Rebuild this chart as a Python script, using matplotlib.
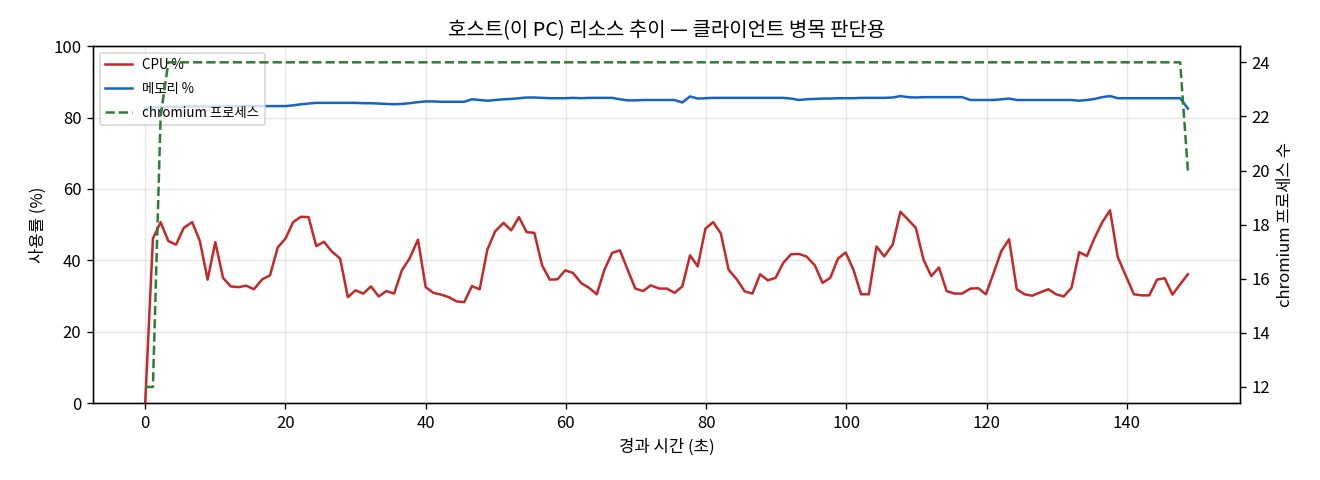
import matplotlib
matplotlib.use("Agg")
import matplotlib.pyplot as plt

plt.rcParams['font.family'] = ['Noto Sans CJK KR', 'DejaVu Sans']
plt.rcParams['axes.unicode_minus'] = False

# elapsed seconds for each sample (sampling was a bit slower than 1 s)
t_sec = [0.0, 1.1, 2.2, 3.3, 4.4, 5.5, 6.7, 7.8, 8.9, 10.0,
         11.1, 12.2, 13.3, 14.4, 15.5, 16.7, 17.8, 18.9, 20.0, 21.1,
         22.2, 23.3, 24.4, 25.5, 26.6, 27.8, 28.9, 30.0, 31.1, 32.2,
         33.3, 34.4, 35.5, 36.6, 37.7, 38.9, 40.0, 41.1, 42.2, 43.3,
         44.4, 45.5, 46.6, 47.7, 48.8, 49.9, 51.1, 52.2, 53.3, 54.4,
         55.5, 56.6, 57.7, 58.8, 59.9, 61.0, 62.2, 63.3, 64.4, 65.5,
         66.6, 67.7, 68.8, 69.9, 71.0, 72.1, 73.3, 74.4, 75.5, 76.6,
         77.7, 78.8, 79.9, 81.0, 82.1, 83.2, 84.4, 85.5, 86.6, 87.7,
         88.8, 89.9, 91.0, 92.1, 93.2, 94.3, 95.5, 96.6, 97.7, 98.8,
         99.9, 101.0, 102.1, 103.2, 104.3, 105.4, 106.6, 107.7, 108.8, 109.9,
         111.0, 112.1, 113.2, 114.3, 115.4, 116.5, 117.7, 118.8, 119.9, 121.0,
         122.1, 123.2, 124.3, 125.4, 126.5, 127.6, 128.8, 129.9, 131.0, 132.1,
         133.2, 134.3, 135.4, 136.5, 137.6, 138.7, 139.9, 141.0, 142.1, 143.2,
         144.3, 145.4, 146.5, 147.6, 148.7]

cpu_pct = [0.0, 46.1, 50.7, 45.4, 44.4, 49.1, 50.7, 45.4, 34.6, 45.1,
           35.1, 32.7, 32.5, 32.9, 31.9, 34.7, 35.8, 43.6, 46.1, 50.7,
           52.2, 52.1, 44.0, 45.2, 42.5, 40.5, 29.7, 31.6, 30.7, 32.7,
           29.9, 31.4, 30.7, 37.2, 40.5, 45.8, 32.5, 30.9, 30.4, 29.7,
           28.5, 28.3, 32.8, 31.9, 43.0, 48.1, 50.5, 48.4, 52.1, 47.9,
           47.7, 38.6, 34.6, 34.7, 37.2, 36.5, 33.6, 32.3, 30.5, 37.4,
           42.1, 42.8, 37.4, 32.1, 31.4, 33.0, 32.1, 32.1, 30.9, 32.7,
           41.4, 38.3, 48.9, 50.7, 47.5, 37.4, 34.6, 31.3, 30.7, 36.1,
           34.4, 35.1, 39.3, 41.7, 41.8, 41.1, 38.6, 33.7, 35.1, 40.5,
           42.2, 37.4, 30.5, 30.5, 43.9, 41.1, 44.4, 53.6, 51.4, 49.1,
           40.2, 35.6, 38.0, 31.4, 30.7, 30.7, 32.1, 32.2, 30.5, 36.5,
           42.6, 45.9, 31.9, 30.5, 30.1, 31.0, 31.9, 30.5, 29.9, 32.3,
           42.3, 41.2, 46.3, 50.7, 54.0, 40.9, 35.5, 30.5, 30.2, 30.2,
           34.6, 35.0, 30.4, 33.3, 36.1]

mem_pct = [82.6, 82.8, 82.9, 83.0, 83.0, 83.0, 83.1, 83.1, 83.1, 83.1,
           83.2, 83.2, 83.2, 83.2, 83.2, 83.2, 83.2, 83.2, 83.2, 83.4,
           83.7, 83.9, 84.1, 84.1, 84.1, 84.1, 84.1, 84.1, 84.0, 84.0,
           83.9, 83.8, 83.7, 83.8, 84.0, 84.3, 84.5, 84.5, 84.4, 84.4,
           84.4, 84.4, 85.1, 84.9, 84.7, 84.9, 85.1, 85.2, 85.4, 85.6,
           85.6, 85.5, 85.4, 85.4, 85.4, 85.5, 85.4, 85.5, 85.5, 85.5,
           85.5, 85.1, 84.8, 84.8, 84.9, 84.9, 84.9, 84.9, 84.9, 84.2,
           85.9, 85.3, 85.4, 85.5, 85.5, 85.5, 85.5, 85.5, 85.5, 85.5,
           85.5, 85.5, 85.5, 85.3, 84.9, 85.1, 85.2, 85.3, 85.3, 85.4,
           85.4, 85.4, 85.5, 85.5, 85.5, 85.5, 85.6, 86.0, 85.7, 85.6,
           85.7, 85.7, 85.7, 85.7, 85.7, 85.7, 84.9, 84.9, 84.9, 84.9,
           85.1, 85.3, 84.9, 84.9, 84.9, 84.9, 84.9, 84.9, 84.9, 84.9,
           84.7, 84.9, 85.2, 85.7, 86.0, 85.4, 85.4, 85.4, 85.4, 85.4,
           85.4, 85.4, 85.4, 85.4, 82.5]

chromium_procs = [12, 12, 22] + [24] * 131 + [20]

fig, ax1 = plt.subplots(figsize=(11, 4), dpi=120)
fig.subplots_adjust(left=0.0705, right=0.9394, top=0.904, bottom=0.160)

l1, = ax1.plot(t_sec, cpu_pct, color='#c62828', linewidth=1.5, label='CPU %')
l2, = ax1.plot(t_sec, mem_pct, color='#1565c0', linewidth=1.5, label='메모리 %')
ax1.set_ylim(0, 100)
ax1.set_xlabel('경과 시간 (초)')
ax1.set_ylabel('사용률 (%)')
ax1.grid(True, alpha=0.3)

ax2 = ax1.twinx()
l3, = ax2.plot(t_sec, chromium_procs, color='#2e7d32', linewidth=1.5,
               linestyle='--', label='chromium 프로세스')
ax2.set_ylabel('chromium 프로세스 수')

ax1.legend(handles=[l1, l2, l3], loc='upper left', fontsize=8, labelspacing=0.75)
ax1.set_title('호스트(이 PC) 리소스 추이 — 클라이언트 병목 판단용')

fig.savefig('out.png')
